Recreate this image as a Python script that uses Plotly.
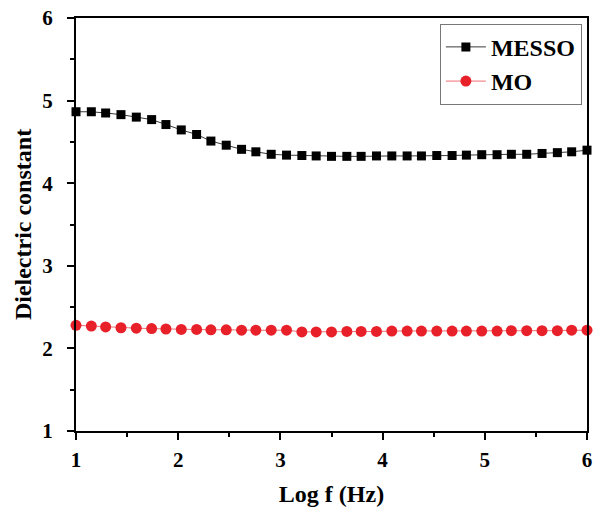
import plotly.graph_objects as go

log_f = [1.00, 1.15, 1.29, 1.44, 1.59, 1.74, 1.88, 2.03, 2.18, 2.32, 2.47, 2.62,
         2.76, 2.91, 3.06, 3.21, 3.35, 3.50, 3.65, 3.79, 3.94, 4.09, 4.24, 4.38,
         4.53, 4.68, 4.82, 4.97, 5.12, 5.26, 5.41, 5.56, 5.71, 5.85, 6.00]

messo = [4.865, 4.865, 4.85, 4.83, 4.80, 4.77, 4.71, 4.645, 4.59, 4.51, 4.46, 4.41,
         4.38, 4.35, 4.34, 4.335, 4.33, 4.325, 4.325, 4.325, 4.33, 4.33, 4.33, 4.33,
         4.335, 4.335, 4.34, 4.345, 4.345, 4.35, 4.35, 4.36, 4.37, 4.38, 4.40]

mo = [2.28, 2.27, 2.26, 2.25, 2.245, 2.24, 2.235, 2.23, 2.23, 2.225, 2.225, 2.22,
      2.22, 2.22, 2.22, 2.20, 2.20, 2.20, 2.205, 2.205, 2.205, 2.21, 2.21, 2.21,
      2.21, 2.21, 2.21, 2.21, 2.21, 2.215, 2.215, 2.215, 2.215, 2.22, 2.22]

x_ticks = [1, 2, 3, 4, 5, 6]
y_ticks = [1, 2, 3, 4, 5, 6]

FONT = "Liberation Serif"
TICKFONT = dict(family=FONT, size=21, color="black", weight="bold")

fig = go.Figure()
fig.add_trace(go.Scatter(
    x=log_f, y=messo, name="<b>MESSO</b>", mode="lines+markers",
    line=dict(color="#3a3a3a", width=1),
    marker=dict(symbol="square", size=9, color="black"),
    cliponaxis=False,
))
fig.add_trace(go.Scatter(
    x=log_f, y=mo, name="<b>MO</b>", mode="lines+markers",
    line=dict(color="#f07070", width=1),
    marker=dict(symbol="circle", size=11, color="#e8202a"),
    cliponaxis=False,
))

axis_common = dict(
    showgrid=False, zeroline=False, showline=True, linecolor="black", linewidth=2,
    mirror=True, ticks="outside", ticklen=7, tickwidth=2, tickcolor="black",
    minor=dict(ticks="outside", ticklen=4, tickwidth=2, tickcolor="black"),
)

fig.update_xaxes(
    range=[1, 6], tickvals=x_ticks, ticktext=[f"<b>{v}</b>" for v in x_ticks],
    tickfont=TICKFONT,
    minor_dtick=0.5, minor_tick0=1, ticklabelstandoff=2,
    title=dict(text="<b>Log f (Hz)</b>", font=dict(family=FONT, size=24, color="black"),
               standoff=14),
    **axis_common,
)
fig.update_yaxes(
    range=[1, 6], tickvals=y_ticks, ticktext=[f"<b>{v}</b>" for v in y_ticks],
    tickfont=TICKFONT,
    minor_dtick=0.5, minor_tick0=1, ticklabelstandoff=10,
    title=dict(text="<b>Dielectric constant</b>", font=dict(family=FONT, size=24, color="black"),
               standoff=4),
    **axis_common,
)

fig.update_layout(
    width=598, height=509,
    margin=dict(l=76, r=6, t=17, b=75),
    plot_bgcolor="white", paper_bgcolor="white",
    legend=dict(
        x=0.99, y=0.986, xanchor="right", yanchor="top",
        bgcolor="white", bordercolor="#777777", borderwidth=1,
        font=dict(family=FONT, size=24, color="black"),
        tracegroupgap=0, itemwidth=40,
    ),
    showlegend=True,
)

fig.write_html("out.html")
